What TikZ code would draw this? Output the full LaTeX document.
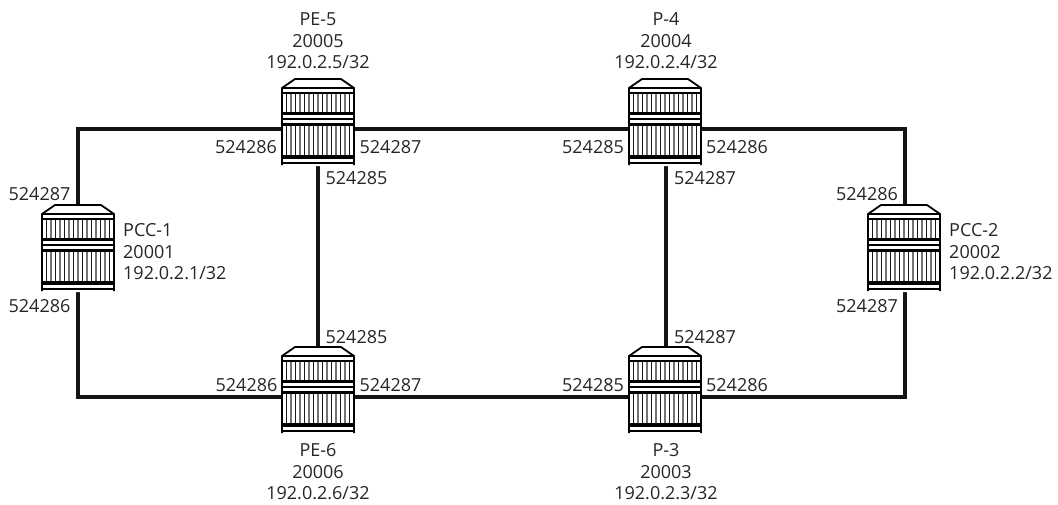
\documentclass[tikz,border=0pt]{standalone}
\usepackage{fontspec}
\setmainfont{Open Sans}
\tikzset{
  x=1pt,y=-1pt,
  link/.style={line width=3.4pt,draw=black!92},
  lbl/.style={inner sep=0pt,font=\fontsize{18}{21.5}\selectfont,text=black!85},
  info/.style={inner sep=0pt,font=\fontsize{18}{21.5}\selectfont,text=black!85,align=center},
  infol/.style={inner sep=0pt,font=\fontsize{18}{21.5}\selectfont,text=black!85,align=left,anchor=west},
  rtr/.pic={
    \fill[white] (-36,-34) -- (-23,-43) -- (23,-43) -- (36,-34) -- (36,44) -- (-36,44) -- cycle;
    \foreach \i [count=\k] in {-31.5,-27,...,32} {
      \pgfmathsetmacro{\shade}{mod(\k,2)==0 ? 55 : 90}
      \draw[line width=1.2pt,black!\shade] (\i,-29) -- (\i,-9);
      \draw[line width=1.2pt,black!\shade] (\i,3) -- (\i,34);
    }
    \draw[line width=1.8pt] (-36,43) -- (-36,-34) -- (-23,-43) -- (23,-43) -- (36,-34) -- (36,43);
    \draw[line width=1.4pt] (-36,-34) -- (36,-34);
    \draw[line width=1.4pt] (-36,-29) -- (36,-29);
    \draw[line width=3.4pt] (-36,-8.5) -- (36,-8.5);
    \draw[line width=1.2pt] (-36,-3) -- (36,-3);
    \draw[line width=2.2pt] (-36,2.5) -- (36,2.5);
    \draw[line width=3.4pt] (-36,35) -- (36,35);
    \draw[line width=1.4pt] (-36,41) -- (36,41);
  }
}
\begin{document}
\begin{tikzpicture}
\useasboundingbox (0,0) rectangle (1058,504);
\coordinate (pcc1) at (78,248);
\coordinate (pe5) at (318,122);
\coordinate (p4) at (665,122);
\coordinate (pcc2) at (904,248);
\coordinate (pe6) at (318,390);
\coordinate (p3) at (665,390);
\coordinate (c1) at (78,129);
\coordinate (c2) at (905,129);
\coordinate (c3) at (78,397);
\coordinate (c4) at (905,397);
\draw[link] (c1) -- (c2) -- (c4) -- (c3) -- cycle;
\draw[link] (pe5) -- (pe6);
\draw[link] ([xshift=1pt]p4) -- ([xshift=1pt]p3);
\foreach \n in {pcc1,pe5,p4,pcc2,pe6,p3} \pic at (\n) {rtr};
\node[info] (t5) at (318,41) {PE-5\\20005\\192.0.2.5/32};
\node[info] (t4) at (666,41) {P-4\\20004\\192.0.2.4/32};
\node[info] (t6) at (318,472) {PE-6\\20006\\192.0.2.6/32};
\node[info] (t3) at (666,472) {P-3\\20003\\192.0.2.3/32};
\node[infol] (t1) at (123,252) {PCC-1\\20001\\192.0.2.1/32};
\node[infol] (t2) at (949,252) {PCC-2\\20002\\192.0.2.2/32};
\node[lbl] (a1) at (39.5,194) {524287};
\node[lbl] (a2) at (39.5,306) {524286};
\node[lbl] (a3) at (246,147) {524286};
\node[lbl] (a4) at (390.5,147) {524287};
\node[lbl] (a5) at (356.5,178) {524285};
\node[lbl] (a6) at (356.5,337) {524285};
\node[lbl] (a7) at (246.5,385) {524286};
\node[lbl] (a8) at (390.5,385) {524287};
\node[lbl] (a9) at (593,147) {524285};
\node[lbl] (a10) at (737,147) {524286};
\node[lbl] (a11) at (705,178) {524287};
\node[lbl] (a12) at (705,337) {524287};
\node[lbl] (a13) at (593,385) {524285};
\node[lbl] (a14) at (737,385) {524286};
\node[lbl] (a15) at (867,194) {524286};
\node[lbl] (a16) at (867,306) {524287};
\end{tikzpicture}
\end{document}
